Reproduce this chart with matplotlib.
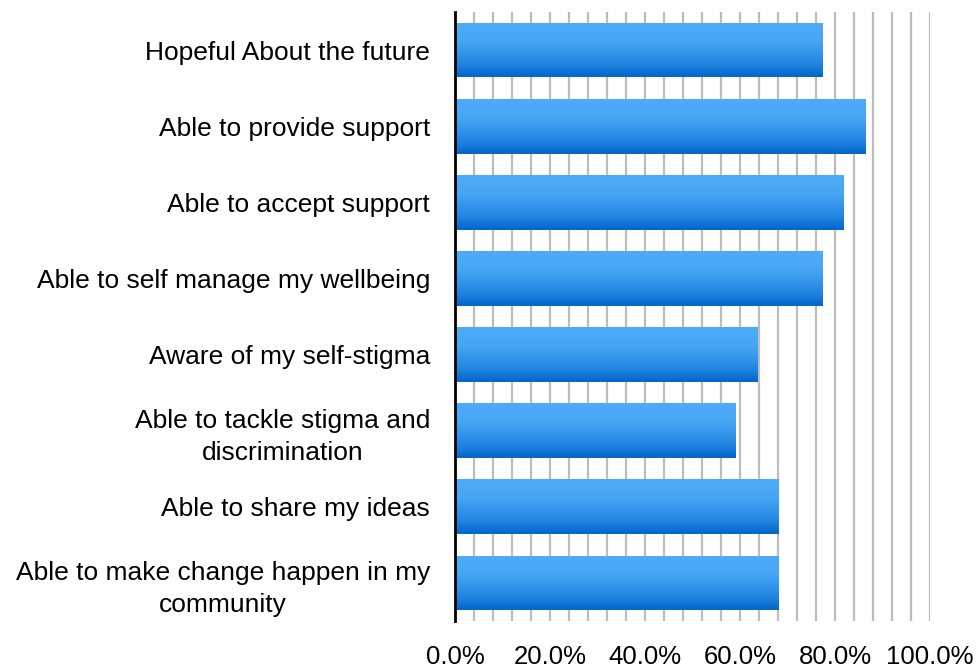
import numpy as np
import matplotlib.pyplot as plt
from matplotlib.colors import LinearSegmentedColormap
from matplotlib.ticker import FuncFormatter

plt.rcParams['font.family'] = ['Liberation Sans', 'DejaVu Sans']

# Survey outcomes (share of respondents)
labels = [
    'Hopeful About the future',
    'Able to provide support',
    'Able to accept support',
    'Able to self manage my wellbeing',
    'Aware of my self-stigma',
    'Able to tackle stigma and\ndiscrimination',
    'Able to share my ideas',
    'Able to make change happen in my\ncommunity',
]
values = [77.3, 86.4, 81.8, 77.3, 63.6, 59.1, 68.2, 68.2]
tick_values = [0, 20, 40, 60, 80, 100]

fig = plt.figure(figsize=(9.76, 6.68), dpi=100)
ax = fig.add_axes([455 / 976, 47 / 668, 475 / 976, 609 / 668])

y = np.arange(len(labels))
bars = ax.barh(y, values, height=0.72, facecolor='none', edgecolor='none', zorder=3)

# vertical blue gradient, light on top, dark at the bottom
cmap = LinearSegmentedColormap.from_list(
    'bar', [(0.0, '#4eabf9'), (0.35, '#47a5f4'), (0.75, '#2386e2'), (1.0, '#0066c9')])
grad = np.linspace(0, 1, 256).reshape(-1, 1)
for b in bars:
    x0, y0 = b.get_x(), b.get_y()
    w, h = b.get_width(), b.get_height()
    im = ax.imshow(grad, cmap=cmap, aspect='auto', interpolation='bilinear',
                   extent=(x0, x0 + w, y0 + h, y0), origin='upper', zorder=3)
    im.set_clip_path(b)

ax.set_xlim(0, 100)
ax.set_ylim(len(labels) - 0.5, -0.5)
ax.set_yticks(y)
ax.set_yticklabels(labels, fontsize=19)
for t in ax.get_yticklabels():
    t.set_multialignment('center')
    t.set_linespacing(1.4)
ax.set_xticks(tick_values)
ax.xaxis.set_major_formatter(FuncFormatter(lambda v, p: '%.1f%%' % v))
ax.tick_params(axis='x', labelsize=18.5, length=0, pad=17)
ax.tick_params(axis='y', length=0, pad=18)

ax.grid(False)
for gx in np.arange(4, 100.1, 4):
    ax.axvline(gx, color='#bdbdbd', linewidth=1.6, zorder=1)

for s in ['top', 'right', 'bottom']:
    ax.spines[s].set_visible(False)
ax.spines['left'].set_linewidth(2)
ax.spines['left'].set_color('black')
ax.spines['left'].set_zorder(4)

fig.savefig('out.png', dpi=100)
